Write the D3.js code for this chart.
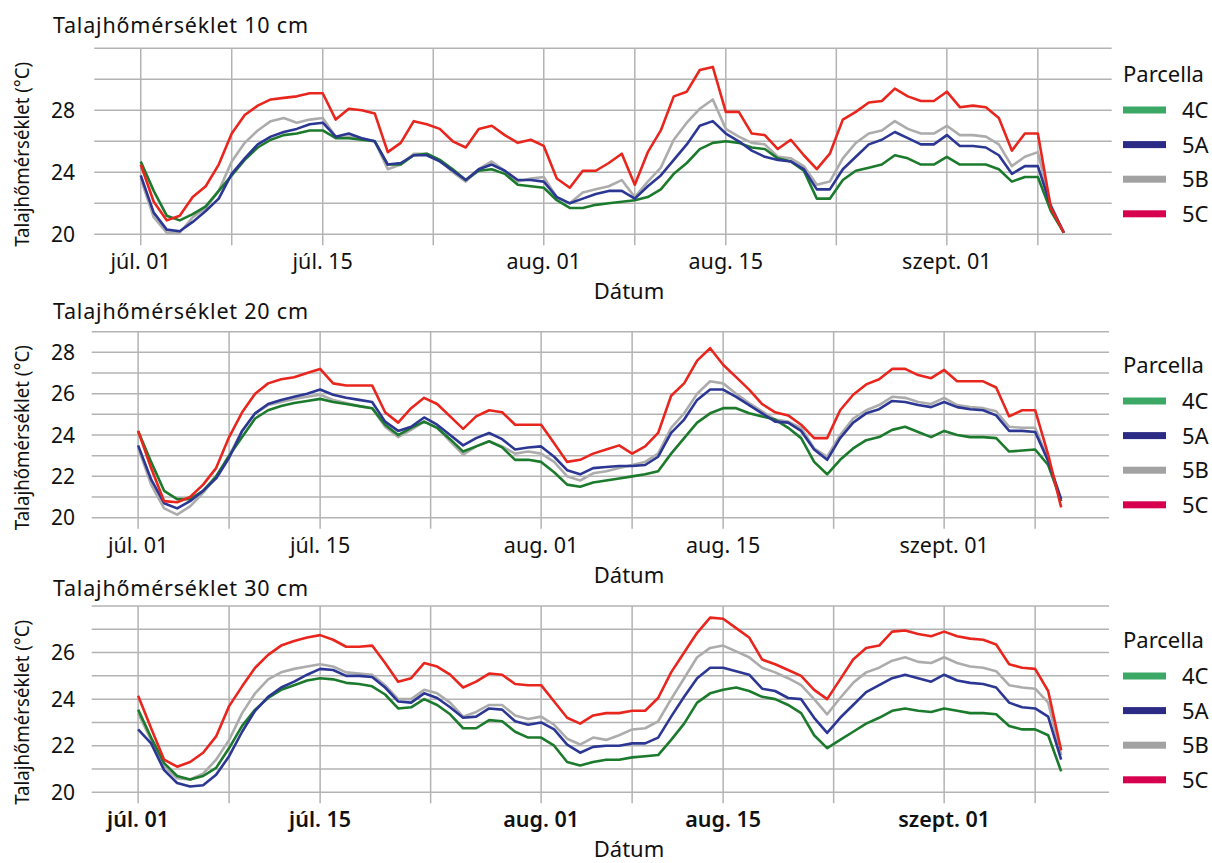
<!DOCTYPE html>
<html>
<head>
<meta charset="utf-8">
<script src="https://cdn.jsdelivr.net/npm/d3@7"></script>
<style>
  body { margin: 0; background: #fff; }
  text { font-family: "Noto Sans", sans-serif; fill: #111; }
</style>
</head>
<body>
<svg id="chart" width="1212" height="863"></svg>
<script>
// parcels and tick labels
const parcels = ['4C', '5A', '5B', '5C'];
const majorDates = ['2021-07-01', '2021-07-15', '2021-08-01', '2021-08-15', '2021-09-01', '2021-09-15'];
const majorLabels = ['júl. 01', 'júl. 15', 'aug. 01', 'aug. 15', 'szept. 01'];

// daily values, júl. 01 .. szept. 10
const t10_4C = [24.7,22.8,21.2,20.9,21.3,21.8,22.8,23.8,24.8,25.6,26.1,26.4,26.5,26.7,26.7,26.2,26.2,26.1,26.0,24.5,24.5,25.1,25.2,24.8,24.2,23.5,24.1,24.2,23.9,23.2,23.1,23.0,22.2,21.7,21.7,21.9,22.0,22.1,22.2,22.4,22.9,23.9,24.6,25.5,25.9,26.0,25.9,25.6,25.5,24.9,24.7,24.1,22.3,22.3,23.5,24.1,24.3,24.5,25.1,24.9,24.5,24.5,25.0,24.5,24.5,24.5,24.2,23.4,23.7,23.7,21.5,20.1];
const t10_5A = [23.8,21.4,20.3,20.2,20.8,21.5,22.3,23.9,24.9,25.8,26.3,26.6,26.8,27.1,27.2,26.3,26.5,26.2,26.0,24.5,24.6,25.1,25.1,24.7,24.1,23.5,24.2,24.5,24.1,23.5,23.5,23.4,22.4,22.0,22.3,22.6,22.8,22.8,22.3,23.1,23.8,24.8,25.8,27.0,27.3,26.5,26.0,25.4,25.0,24.8,24.7,24.2,22.9,22.9,24.2,25.0,25.8,26.1,26.6,26.2,25.8,25.8,26.4,25.7,25.7,25.6,25.1,23.9,24.4,24.4,21.8,20.1];
const t10_5B = [23.6,21.1,20.1,20.1,21.1,21.7,22.8,24.7,25.9,26.7,27.3,27.5,27.2,27.4,27.5,26.3,26.3,26.2,26.0,24.2,24.5,25.2,25.2,24.8,24.0,23.4,24.2,24.7,24.1,23.4,23.6,23.7,22.4,22.0,22.7,22.9,23.1,23.5,22.4,23.4,24.3,26.1,27.2,28.1,28.7,26.8,26.3,25.9,25.8,25.0,24.9,24.4,23.2,23.4,24.9,25.9,26.5,26.7,27.3,26.8,26.5,26.5,27.0,26.4,26.4,26.3,25.8,24.4,25.0,25.3,21.9,20.1];
const t10_5C = [24.5,22.1,20.9,21.2,22.4,23.1,24.5,26.5,27.7,28.3,28.7,28.8,28.9,29.1,29.1,27.4,28.1,28.0,27.8,25.3,25.9,27.3,27.1,26.8,26.0,25.6,26.8,27.0,26.4,25.9,26.1,25.7,23.6,23.0,24.1,24.1,24.6,25.2,23.2,25.3,26.7,28.9,29.2,30.6,30.8,27.9,27.9,26.5,26.4,25.5,26.1,25.1,24.2,25.2,27.4,27.9,28.5,28.6,29.4,28.9,28.6,28.6,29.2,28.2,28.3,28.2,27.5,25.4,26.5,26.5,21.7,20.1];

const t20_4C = [24.2,22.7,21.3,20.9,20.9,21.3,22.0,23.0,23.9,24.8,25.2,25.4,25.55,25.65,25.75,25.6,25.5,25.4,25.3,24.5,24.0,24.35,24.65,24.35,23.8,23.2,23.45,23.7,23.4,22.8,22.8,22.7,22.2,21.6,21.5,21.7,21.8,21.9,22.0,22.1,22.25,23.1,23.85,24.6,25.05,25.3,25.3,25.05,24.9,24.75,24.35,23.85,22.7,22.1,22.8,23.35,23.75,23.9,24.25,24.4,24.15,23.9,24.2,24.0,23.9,23.9,23.85,23.2,23.25,23.3,22.55,20.8];
const t20_5A = [23.5,21.85,20.7,20.45,20.8,21.3,21.9,22.9,24.2,25.05,25.5,25.7,25.85,26.0,26.2,25.95,25.8,25.7,25.6,24.65,24.2,24.4,24.85,24.5,24.0,23.5,23.85,24.1,23.8,23.3,23.4,23.45,22.95,22.3,22.1,22.4,22.45,22.5,22.5,22.55,22.95,24.1,24.75,25.7,26.2,26.2,25.85,25.45,25.05,24.65,24.6,24.2,23.3,22.8,23.85,24.6,25.05,25.25,25.65,25.6,25.45,25.35,25.6,25.35,25.25,25.2,24.95,24.2,24.2,24.15,22.75,20.9];
const t20_5B = [23.4,21.6,20.45,20.15,20.55,21.2,22.0,23.0,24.2,25.05,25.45,25.6,25.75,25.85,25.95,25.7,25.55,25.4,25.3,24.4,23.9,24.25,24.65,24.35,23.7,23.05,23.45,23.7,23.45,23.1,23.2,23.1,22.7,22.0,21.8,22.15,22.25,22.4,22.55,22.7,23.1,24.35,25.05,26.0,26.6,26.5,26.0,25.55,25.15,24.75,24.65,24.35,23.35,22.95,24.0,24.8,25.2,25.45,25.85,25.8,25.6,25.5,25.8,25.45,25.35,25.3,25.15,24.4,24.35,24.35,22.8,20.8];
const t20_5C = [24.2,22.4,20.8,20.75,21.0,21.6,22.4,23.9,25.1,26.0,26.5,26.7,26.8,27.0,27.2,26.5,26.4,26.4,26.4,25.1,24.6,25.3,25.8,25.5,24.9,24.3,24.9,25.2,25.1,24.5,24.5,24.5,23.6,22.7,22.8,23.1,23.3,23.5,23.1,23.45,24.1,25.9,26.5,27.6,28.2,27.4,26.8,26.2,25.5,25.1,24.95,24.5,23.85,23.85,25.2,25.95,26.45,26.7,27.2,27.2,26.9,26.75,27.15,26.6,26.6,26.6,26.3,24.9,25.2,25.2,23.05,20.5];

const t30_4C = [23.55,22.35,21.25,20.7,20.55,20.7,21.05,21.9,22.85,23.55,24.05,24.4,24.6,24.8,24.9,24.85,24.7,24.65,24.55,24.2,23.6,23.65,24.0,23.75,23.35,22.75,22.75,23.1,23.05,22.6,22.35,22.35,22.0,21.3,21.15,21.3,21.4,21.4,21.5,21.55,21.6,22.25,22.95,23.85,24.25,24.4,24.5,24.35,24.1,24.0,23.75,23.4,22.45,21.9,22.25,22.6,22.95,23.2,23.5,23.6,23.5,23.45,23.6,23.5,23.4,23.4,23.35,22.85,22.7,22.7,22.45,20.9];
const t30_5A = [22.7,22.1,20.95,20.4,20.25,20.3,20.75,21.55,22.6,23.5,24.1,24.5,24.75,25.05,25.3,25.25,25.0,25.0,24.95,24.5,23.9,23.85,24.25,24.05,23.65,23.2,23.25,23.6,23.55,23.05,22.9,23.0,22.7,22.05,21.7,21.95,22.0,22.0,22.1,22.1,22.35,23.25,24.1,24.9,25.35,25.35,25.2,25.05,24.45,24.35,24.05,24.0,23.2,22.55,23.2,23.75,24.3,24.6,24.9,25.05,24.9,24.75,25.05,24.8,24.7,24.65,24.5,23.85,23.65,23.6,23.25,21.4];
const t30_5B = [23.4,22.25,21.1,20.6,20.55,20.8,21.4,22.25,23.4,24.25,24.85,25.15,25.3,25.4,25.5,25.4,25.15,25.1,25.05,24.6,24.0,24.0,24.4,24.25,23.85,23.25,23.45,23.75,23.75,23.3,23.15,23.25,22.9,22.3,22.05,22.35,22.25,22.45,22.7,22.75,23.05,24.0,24.9,25.8,26.2,26.3,26.05,25.8,25.35,25.15,24.9,24.6,24.0,23.35,24.05,24.7,25.15,25.35,25.65,25.8,25.6,25.55,25.8,25.55,25.4,25.35,25.2,24.6,24.5,24.45,23.85,21.6];
const t30_5C = [24.15,22.75,21.4,21.1,21.3,21.7,22.4,23.7,24.55,25.35,25.9,26.3,26.5,26.65,26.75,26.55,26.25,26.25,26.3,25.55,24.75,24.9,25.55,25.4,25.05,24.5,24.75,25.1,25.05,24.65,24.6,24.6,23.9,23.2,22.95,23.3,23.4,23.4,23.5,23.5,24.05,25.15,26.0,26.85,27.5,27.45,27.05,26.65,25.7,25.5,25.25,25.0,24.4,24.0,24.85,25.7,26.2,26.3,26.9,26.95,26.8,26.7,26.9,26.7,26.6,26.55,26.35,25.5,25.35,25.3,24.35,21.8];

const lineColor = { '4C': '#1b7a2c', '5A': '#2c3794', '5B': '#acacac', '5C': '#e8261e' };
const keyColor = { '4C': '#3ba866', '5A': '#2b2b86', '5B': '#a2a2a2', '5C': '#d6004f' };
const drawOrder = ['5B', '4C', '5A', '5C'];

const dates = d3.utcDay.range(new Date(Date.UTC(2021, 6, 1)), new Date(Date.UTC(2021, 8, 11)));
const day = 864e5;
const jul1 = Date.UTC(2021, 6, 1);
const xDomain = [new Date(jul1 - 3.57 * day), new Date(jul1 + 74.68 * day)];

const panels = [
  { title: 'Talajhőmérséklet 10 cm', series: { '4C': t10_4C, '5A': t10_5A, '5B': t10_5B, '5C': t10_5C },
    yMax: 32, ticks: [20, 24, 28], step: 2,
    left: 94.3, right: 1111.7, top: 48.3, bottom: 234.3, titleY: 33, keyY: 110 },
  { title: 'Talajhőmérséklet 20 cm', series: { '4C': t20_4C, '5A': t20_5A, '5B': t20_5B, '5C': t20_5C },
    yMax: 29, ticks: [20, 22, 24, 26, 28], step: 1,
    left: 91.7, right: 1109, top: 331.7, bottom: 517.7, titleY: 319, keyY: 401 },
  { title: 'Talajhőmérséklet 30 cm', series: { '4C': t30_4C, '5A': t30_5A, '5B': t30_5B, '5C': t30_5C },
    yMax: 28, ticks: [20, 22, 24, 26], step: 1, boldTicks: true,
    left: 91.7, right: 1109, top: 606, bottom: 792.3, titleY: 596, keyY: 676 },
];

const svg = d3.select('#chart');
const gridColor = '#b3b3b3';

function drawPanel(p) {
  const g = svg.append('g');
  const x = d3.scaleUtc().domain(xDomain).range([p.left, p.right]);
  const y = d3.scaleLinear().domain([20, p.yMax]).range([p.bottom, p.top]);

  const majors = majorDates.map(d => new Date(d + 'T00:00:00Z'));
  const minors = d3.pairs(majors, (a, b) => new Date((+a + +b) / 2));
  const verticals = majors.slice(0, -1).concat(minors);

  // horizontal grid
  g.selectAll('.hgrid')
    .data(d3.range(20, p.yMax + 0.01, p.step))
    .join('line')
    .attr('x1', p.left).attr('x2', p.right)
    .attr('y1', d => y(d)).attr('y2', d => y(d))
    .attr('stroke', gridColor).attr('stroke-width', 1.5);

  // vertical grid, running down into the tick marks
  g.selectAll('.vgrid')
    .data(verticals)
    .join('line')
    .attr('x1', d => x(d)).attr('x2', d => x(d))
    .attr('y1', p.top).attr('y2', p.bottom + 11)
    .attr('stroke', gridColor).attr('stroke-width', 1.5);

  // y tick labels
  g.selectAll('.ylab')
    .data(p.ticks)
    .join('text')
    .attr('x', 75).attr('y', d => y(d) + 7.5)
    .attr('text-anchor', 'end')
    .attr('font-size', 21)
    .text(d => d);

  // x tick labels
  g.selectAll('.xlab')
    .data(majorLabels)
    .join('text')
    .attr('x', (d, i) => x(majors[i]))
    .attr('y', p.bottom + 35)
    .attr('text-anchor', 'middle')
    .attr('font-size', 21.5)
    .attr('font-weight', p.boldTicks ? 600 : 400)
    .text(d => d);

  g.append('text')
    .attr('x', 629).attr('y', p.bottom + 65)
    .attr('text-anchor', 'middle')
    .attr('font-size', 22)
    .text('Dátum');

  g.append('text')
    .attr('x', 53).attr('y', p.titleY)
    .attr('font-size', 21.5)
    .attr('textLength', 255)
    .text(p.title);

  const cy = p.bottom - 80;
  g.append('text')
    .attr('transform', `translate(29, ${cy}) rotate(-90)`)
    .attr('text-anchor', 'middle')
    .attr('font-size', 19)
    .attr('textLength', 185)
    .attr('lengthAdjust', 'spacingAndGlyphs')
    .text('Talajhőmérséklet (°C)');

  const line = d3.line()
    .x((d, i) => x(dates[i]))
    .y(d => y(d));

  drawOrder.forEach(k => {
    g.append('path')
      .datum(p.series[k])
      .attr('fill', 'none')
      .attr('stroke', lineColor[k])
      .attr('stroke-width', 2.6)
      .attr('stroke-linejoin', 'round')
      .attr('d', line);
  });

  // legend
  const lg = g.append('g').attr('transform', `translate(1123, ${p.keyY})`);
  lg.append('text').attr('x', 0).attr('y', -28).attr('font-size', 22).text('Parcella');
  parcels.forEach((k, i) => {
    lg.append('rect')
      .attr('x', 0).attr('y', i * 34.6 - 3.5)
      .attr('width', 43).attr('height', 7)
      .attr('fill', keyColor[k]);
    lg.append('text')
      .attr('x', 59).attr('y', i * 34.6 + 8)
      .attr('font-size', 22)
      .text(k);
  });
}

panels.forEach(drawPanel);
</script>
</body>
</html>
